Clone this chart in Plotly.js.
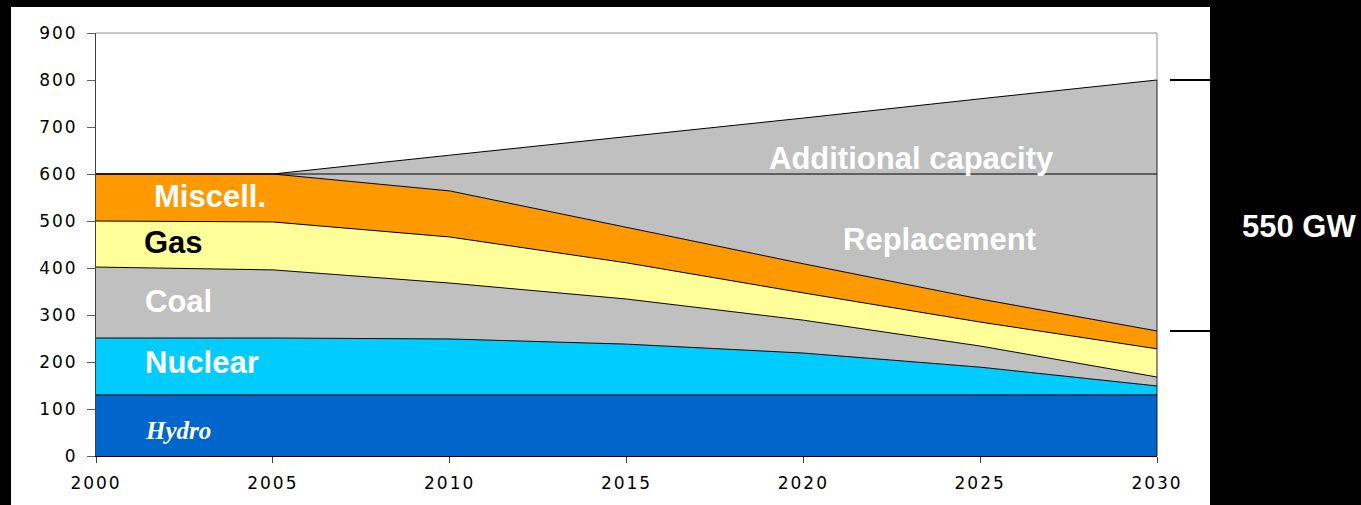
<!DOCTYPE html>
<html>
<head>
<meta charset="utf-8">
<script src="https://cdn.plot.ly/plotly-3.0.1.min.js"></script>
<style>
html,body{margin:0;padding:0;background:#000;}
#chart{width:1361px;height:505px;}
#chart .xtick text, #chart .ytick text{letter-spacing:2px;}
</style>
</head>
<body>
<div id="chart"></div>
<script>
// Data (GW), stacked contributions per year
const years = [2000, 2005, 2010, 2015, 2020, 2025, 2030];
const tickLabels = ['2000', '2005', '2010', '2015', '2020', '2025', '2030'];
const hydro = [130, 130, 130, 130, 130, 130, 130];
const nuclear = [121, 121, 119, 108, 89, 59, 19];
const coal = [151, 145, 119, 96, 70, 45, 19];
const gas = [98, 102, 98, 77, 58, 51, 60];
const miscell = [100, 102, 98, 76, 62, 49, 38];
const replacement = [0, 0, 36, 113, 191, 266, 334];
const additional = [0, 0, 40, 79, 119, 160, 200];

const seriesNames = ['Hydro', 'Nuclear', 'Coal', 'Gas', 'Miscell.', 'Replacement', 'Additional capacity'];
const seriesData = [hydro, nuclear, coal, gas, miscell, replacement, additional];
const seriesColors = ['#0066CC', '#00CCFF', '#C0C0C0', '#FFFF99', '#FF9900', '#C0C0C0', '#C0C0C0'];

const traces = seriesData.map((vals, i) => ({
  type: 'scatter',
  mode: 'lines',
  x: years,
  y: vals,
  name: seriesNames[i],
  stackgroup: 'one',
  fillcolor: seriesColors[i],
  line: {color: '#000000', width: 1},
  hoverinfo: 'skip'
}));

const last = years.length - 1;
const totalEnd = seriesData.reduce((s, a) => s + a[last], 0);
const existingEnd = seriesData.slice(0, 5).reduce((s, a) => s + a[last], 0);

const bold = 'Arial, "Liberation Sans", sans-serif';
function lab(text, x, y, color, size, family) {
  return {
    text: text, x: x, y: y, xref: 'x', yref: 'y', showarrow: false,
    xanchor: 'center', yanchor: 'middle',
    font: {family: family || bold, size: size, color: color, weight: 'bold'}
  };
}

const tickFont = {family: '"DejaVu Sans", sans-serif', size: 17, color: '#000000'};

const layout = {
  width: 1361, height: 505,
  margin: {l: 96, r: 204, t: 33, b: 49, pad: 0},
  paper_bgcolor: '#000000',
  plot_bgcolor: '#FFFFFF',
  showlegend: false,
  xaxis: {
    range: [years[0], years[last]],
    tickmode: 'array', tickvals: years, ticktext: tickLabels,
    ticks: 'outside', ticklen: 6, tickcolor: '#404040',
    showline: true, linecolor: '#000000', linewidth: 1,
    showgrid: false, zeroline: false,
    ticklabelstandoff: 6,
    tickfont: tickFont,
    fixedrange: true
  },
  yaxis: {
    range: [0, 900], dtick: 100, tick0: 0,
    ticks: 'outside', ticklen: 8, tickcolor: '#606060',
    showline: true, linecolor: '#404040', linewidth: 1,
    showgrid: false, zeroline: false,
    ticklabelstandoff: 6,
    tickfont: tickFont,
    fixedrange: true
  },
  shapes: [
    {type: 'rect', xref: 'paper', yref: 'paper', x0: -0.0801, x1: 1.04995, y0: -0.1158, y1: 1.0615,
     fillcolor: '#FFFFFF', line: {width: 0}, layer: 'below'},
    {type: 'line', xref: 'paper', yref: 'paper', x0: 0, x1: 1, y0: 1, y1: 1, line: {color: '#909090', width: 1}},
    {type: 'line', xref: 'paper', yref: 'y', x0: 1, x1: 1, y0: totalEnd, y1: 900, line: {color: '#909090', width: 1}},
    {type: 'line', xref: 'paper', yref: 'y', x0: 1, x1: 1, y0: 0, y1: totalEnd, line: {color: '#202020', width: 1}},
    {type: 'line', xref: 'paper', yref: 'y', x0: 1.0122, x1: 1.04995, y0: totalEnd, y1: totalEnd, line: {color: '#000000', width: 2}},
    {type: 'line', xref: 'paper', yref: 'y', x0: 1.0122, x1: 1.04995, y0: existingEnd, y1: existingEnd, line: {color: '#000000', width: 2}}
  ],
  annotations: [
    lab('Additional capacity', 2023.07, 634, '#FFFFFF', 31),
    lab('Replacement', 2023.86, 460, '#FFFFFF', 31),
    lab('Miscell.', 2003.22, 553, '#FFFFFF', 31),
    lab('Gas', 2002.2, 454, '#000000', 31),
    lab('Coal', 2002.33, 328, '#FFFFFF', 31),
    lab('Nuclear', 2003.01, 200, '#FFFFFF', 31),
    lab('<i>Hydro</i>', 2002.33, 55, '#FFFFFF', 25, '"Times New Roman", "Liberation Serif", serif'),
    {text: '550 GW', xref: 'paper', yref: 'y', x: 1.1338, y: 489, showarrow: false,
     xanchor: 'center', yanchor: 'middle', font: {family: bold, size: 31, color: '#FFFFFF', weight: 'bold'}}
  ]
};

Plotly.newPlot('chart', traces, layout, {displayModeBar: false, staticPlot: true});
</script>
</body>
</html>
